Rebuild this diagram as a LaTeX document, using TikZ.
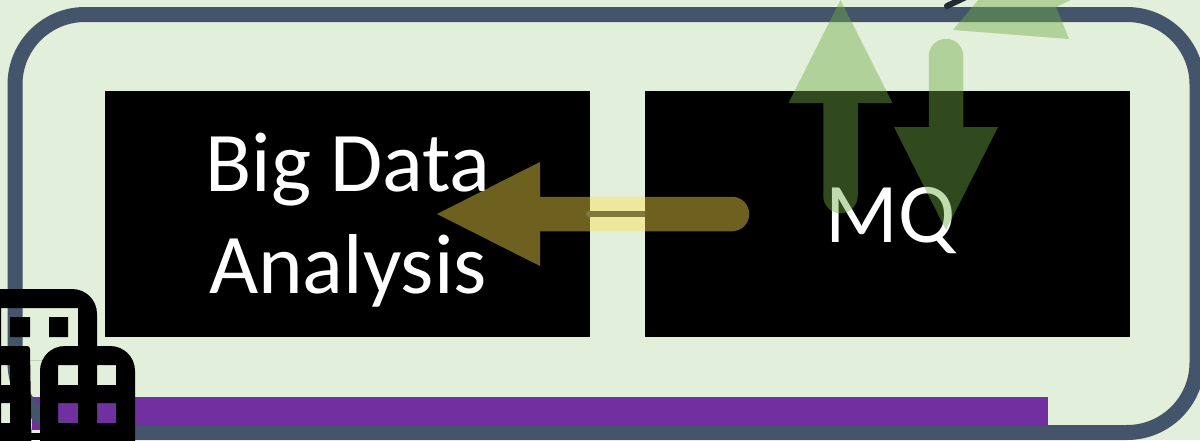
\documentclass[tikz,border=0pt]{standalone}
\usepackage{fontspec}
\setmainfont{Carlito}
\usetikzlibrary{arrows.meta}
\definecolor{panelfill}{RGB}{226,239,218}
\definecolor{panelline}{RGB}{68,84,106}
\definecolor{barpurple}{RGB}{112,48,160}
\definecolor{darkline}{RGB}{34,42,53}
\definecolor{greenarrow}{RGB}{112,173,71}
\definecolor{yellowarrow}{RGB}{255,225,75}
\tikzset{
  every picture/.style={line width=1pt},
  serverbox/.style={fill=black,minimum width=242.5pt,minimum height=123pt,inner sep=0pt},
  boxlabel/.style={text=white,inner sep=0pt,align=center,font=\fontsize{42.5}{51}\selectfont},
  flow/.style={line width=17.25pt,line cap=round,-{Triangle[length=51.5pt,width=52pt,line width=0pt]}},
  flowgroup/.style={transparency group,opacity=0.43}
}
\begin{document}
\begin{tikzpicture}[x=0.5pt,y=0.5pt,yscale=-1,xscale=1]
\clip (0,0) rectangle (1200,440);
\useasboundingbox (0,0) rectangle (1200,440);
\fill [panelfill] (0,0) rectangle (1200,440);

%Shape: Bar
\fill [barpurple] (32,397) rectangle (1048,430);
%Shape: Panel
\draw [draw=panelline,line width=7.5pt,rounded corners=35pt] (15,14.5) rectangle (1197,432.5);

%Shape: Big Data box
\node [serverbox] (bigdata) at (347.5,214) {};
%Straight Lines
\coordinate (linea) at (589,214);
\coordinate (lineb) at (645,214);
\draw [darkline,line width=3pt,line cap=round] (linea) -- (lineb);
%Shape: MQ box
\node [serverbox] (mq) at (887.5,214) {};

% Text Node
\node [boxlabel] (bigdatalabel) at (348,220.5) {Big Data\\Analysis};
% Text Node
\node [boxlabel] (mqlabel) at (890.5,220.5) {MQ};

%Straight Lines
\draw [darkline,line width=3pt,line cap=round] (947,6) -- (985,-12);

%Arrow
\coordinate (mqleft) at (732,214);
\coordinate (bigtip) at (437,214);
\begin{scope}[flowgroup]
\draw [flow,yellowarrow] (mqleft) -- (bigtip);
\end{scope}
%Arrow
\coordinate (mqup) at (840.5,196);
\coordinate (toptip) at (840.5,0);
\begin{scope}[flowgroup]
\draw [flow,greenarrow] (mqup) -- (toptip);
\end{scope}
%Arrow
\coordinate (topin) at (946,56);
\coordinate (mqtip) at (946,230);
\begin{scope}[flowgroup]
\draw [flow,greenarrow] (topin) -- (mqtip);
\end{scope}
%Shape: Arrow head
\fill [greenarrow,opacity=0.43] (953,30) -- (990,-14) -- (1100,-14) -- (1056,7) -- (1069,39) -- cycle;

%Shape: Building
\fill [black,even odd rule] (-30,289) -- (72,289) .. controls (86,289) and (97,300) .. (97,314) -- (97,360) -- (-30,360) -- cycle (1,308) rectangle (78,360);
\fill [black] (10,317) rectangle (30,337) (49,317) rectangle (68,337);
\fill [black,even odd rule] (40,445) -- (40,371) .. controls (40,357) and (51,346) .. (65,346) -- (110,346) .. controls (124,346) and (135,357) .. (135,371) -- (135,445) -- cycle (58,365) rectangle (78,385) (97,365) rectangle (116,385) (58,403) rectangle (78,423) (97,403) rectangle (116,423);
\fill [black,even odd rule] (-30,346) -- (27,346) .. controls (29,346) and (30,347) .. (30,349) -- (31.5,445) -- (-30,445) -- cycle (1,365) rectangle (10,385) (1,403) rectangle (10,423);
\fill [black] (0,433) rectangle (135,440);
\end{tikzpicture}
\end{document}
